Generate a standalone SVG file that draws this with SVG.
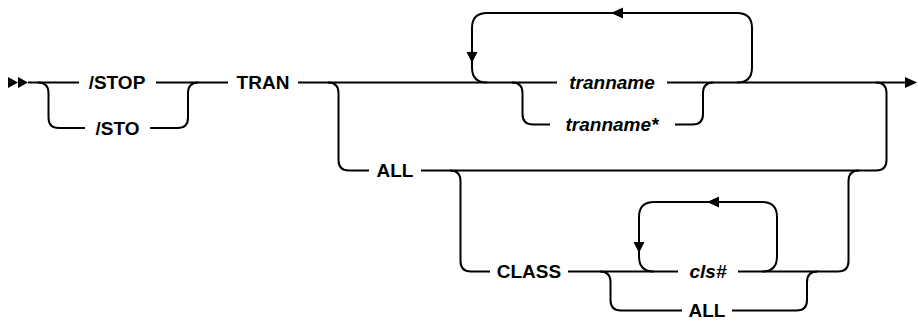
<svg xmlns="http://www.w3.org/2000/svg" width="918" height="321" viewBox="0 0 918 321">
<style>
.ln{fill:none;stroke:#000;stroke-width:2}
.ah{fill:#000;stroke:none}
text{font-family:"Liberation Sans",Arial,sans-serif;font-size:19px;font-weight:bold;fill:#000;text-anchor:middle}
.v{font-style:italic}
</style>
<rect width="918" height="321" fill="#fff"/>
<g id="connectors">
<path class="ah" d="M8,77 L18,82.5 L8,88 Z M18,77 L28,82.5 L18,88 Z"/>
<path class="ln" d="M28,82.5 H79"/>
<path class="ln" d="M38,82.5 Q48.5,82.5 48.5,93 V117.5 Q48.5,128 59,128 H85"/>
<path class="ln" d="M156,82.5 H228"/>
<path class="ln" d="M150,128 H177.5 Q188,128 188,117.5 V93 Q188,82.5 198.5,82.5"/>
<path class="ln" d="M298,82.5 H557"/>
<path class="ln" d="M328,82.5 Q338.5,82.5 338.5,93 V160 Q338.5,170.5 349,170.5 H369"/>
<path class="ln" d="M737,82.5 Q752,82.5 752,67.5 V28 Q752,13 737,13 H487 Q472,13 472,28 V67.5 Q472,82.5 487,82.5"/>
<path class="ah" d="M611,13 L623,7.5 L623,18.5 Z"/>
<path class="ah" d="M472,63 L466.5,52 L477.5,52 Z"/>
<path class="ln" d="M512,82.5 Q522.5,82.5 522.5,93 V114 Q522.5,124.5 533,124.5 H550"/>
<path class="ln" d="M675,124.5 H692.5 Q703,124.5 703,114 V93 Q703,82.5 713.5,82.5"/>
<path class="ln" d="M667,82.5 H906"/>
<path class="ah" d="M917,82.5 L905,77 L905,88 Z"/>
<path class="ln" d="M876,82.5 Q886.5,82.5 886.5,93 V160 Q886.5,170.5 876,170.5 H421"/>
<path class="ln" d="M450,170.5 Q460.5,170.5 460.5,181 V261 Q460.5,271.5 471,271.5 H490"/>
<path class="ln" d="M568,271.5 H678"/>
<path class="ln" d="M738,271.5 H838 Q848.5,271.5 848.5,261 V181 Q848.5,170.5 859,170.5"/>
<path class="ln" d="M762,271.5 Q777,271.5 777,256.5 V217 Q777,202 762,202 H654 Q639,202 639,217 V256.5 Q639,271.5 654,271.5"/>
<path class="ah" d="M707,202 L719,196.5 L719,207.5 Z"/>
<path class="ah" d="M639,253 L633.5,242 L644.5,242 Z"/>
<path class="ln" d="M600,271.5 Q610.5,271.5 610.5,282 V300 Q610.5,310.5 621,310.5 H682"/>
<path class="ln" d="M732,310.5 H796.5 Q807,310.5 807,300 V282 Q807,271.5 817.5,271.5"/>
</g>
<g id="n_stop"><text x="117" y="89">/STOP</text></g>
<g id="n_sto"><text x="117.5" y="134.5">/STO</text></g>
<g id="n_tran"><text x="263" y="89">TRAN</text></g>
<g id="n_tranname"><text class="v" x="612" y="89">tranname</text></g>
<g id="n_tranname_star"><text class="v" x="612" y="131">tranname*</text></g>
<g id="n_all1"><text x="395" y="177">ALL</text></g>
<g id="n_class"><text x="529" y="278">CLASS</text></g>
<g id="n_cls"><text class="v" x="708" y="278">cls#</text></g>
<g id="n_all2"><text x="707" y="316.5">ALL</text></g>
</svg>
